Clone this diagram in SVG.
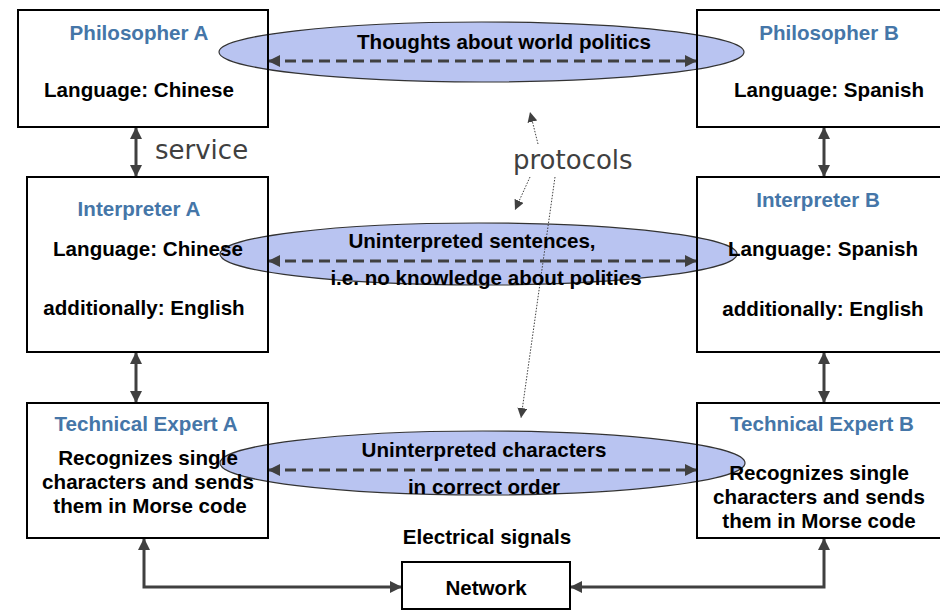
<svg xmlns="http://www.w3.org/2000/svg" width="940" height="611" viewBox="0 0 940 611">
<style>
.box{fill:none;stroke:#000;stroke-width:2}
.ell{fill:#b9c4f1;stroke:#333;stroke-width:1.2}
.t{font-family:"Liberation Sans",Arial,sans-serif;font-weight:bold;font-size:20.6px;fill:#000;text-anchor:middle}
.ti{fill:#4576a8}
.lbl{font-family:"DejaVu Sans",Verdana,sans-serif;font-size:26px;fill:#404040}
.solid{fill:none;stroke:#404040;stroke-width:3}
.dash{fill:none;stroke:#404040;stroke-width:3;stroke-dasharray:11 6}
.dot{fill:none;stroke:#404040;stroke-width:1;stroke-dasharray:1.5 1.5}
</style>
<defs>
<marker id="ah" markerUnits="userSpaceOnUse" viewBox="0 0 12 12" refX="12" refY="6" markerWidth="12" markerHeight="12" orient="auto-start-reverse">
<path d="M0,0 L12,6 L0,12 z" fill="#404040"/>
</marker>
<marker id="sh" markerUnits="userSpaceOnUse" viewBox="0 0 10 10" refX="10" refY="5" markerWidth="10" markerHeight="10" orient="auto">
<path d="M0,0 L10,5 L0,10 z" fill="#404040"/>
</marker>
</defs>
<rect x="0" y="0" width="940" height="611" fill="#fff"/>
<g id="channels">
<ellipse class="ell" cx="481.5" cy="52" rx="262.5" ry="30"/>
<ellipse class="ell" cx="478.5" cy="254" rx="258.5" ry="31"/>
<ellipse class="ell" cx="482.5" cy="463" rx="262.5" ry="32"/>
</g>
<g id="connectors">
<line class="dash" x1="268" y1="61" x2="697" y2="61" marker-start="url(#ah)" marker-end="url(#ah)"/>
<line class="dash" x1="268" y1="261" x2="697" y2="261" marker-start="url(#ah)" marker-end="url(#ah)"/>
<line class="dash" x1="268" y1="470" x2="697" y2="470" marker-start="url(#ah)" marker-end="url(#ah)"/>
<line class="solid" x1="136" y1="127" x2="136" y2="177" marker-start="url(#ah)" marker-end="url(#ah)"/>
<line class="solid" x1="136" y1="352" x2="136" y2="403" marker-start="url(#ah)" marker-end="url(#ah)"/>
<line class="solid" x1="824" y1="127" x2="824" y2="177" marker-start="url(#ah)" marker-end="url(#ah)"/>
<line class="solid" x1="824" y1="352" x2="824" y2="403" marker-start="url(#ah)" marker-end="url(#ah)"/>
<path class="solid" d="M144,538 L144,587 L402,587" marker-start="url(#ah)" marker-end="url(#ah)"/>
<path class="solid" d="M824,538 L824,587 L570,587" marker-start="url(#ah)" marker-end="url(#ah)"/>
<line class="dot" x1="538" y1="144" x2="530" y2="112" marker-end="url(#sh)"/>
<line class="dot" x1="530" y1="177" x2="515" y2="210" marker-end="url(#sh)"/>
<line class="dot" x1="555" y1="177" x2="521" y2="418" marker-end="url(#sh)"/>
</g>
<g id="philosopherA">
<rect class="box" x="18" y="10" width="250" height="117"/>
<text class="t ti" x="139" y="40">Philosopher A</text>
<text class="t" x="139" y="97">Language: Chinese</text>
</g>
<g id="interpreterA">
<rect class="box" x="27" y="177" width="241" height="175"/>
<text class="t ti" x="139" y="216">Interpreter A</text>
<text class="t" x="148" y="256">Language: Chinese</text>
<text class="t" x="144" y="315">additionally: English</text>
</g>
<g id="technicalA">
<rect class="box" x="27" y="403" width="241" height="135"/>
<text class="t ti" x="146" y="431">Technical Expert A</text>
<text class="t" x="148" y="465">Recognizes single</text>
<text class="t" x="148" y="489">characters and sends</text>
<text class="t" x="150" y="513">them in Morse code</text>
</g>
<g id="philosopherB">
<rect class="box" x="697" y="10" width="260" height="117"/>
<text class="t ti" x="829" y="40">Philosopher B</text>
<text class="t" x="829" y="97">Language: Spanish</text>
</g>
<g id="interpreterB">
<rect class="box" x="697" y="177" width="260" height="175"/>
<text class="t ti" x="818" y="207">Interpreter B</text>
<text class="t" x="823" y="256">Language: Spanish</text>
<text class="t" x="823" y="316">additionally: English</text>
</g>
<g id="technicalB">
<rect class="box" x="697" y="403" width="260" height="135"/>
<text class="t ti" x="822" y="431">Technical Expert B</text>
<text class="t" x="819" y="480">Recognizes single</text>
<text class="t" x="819" y="504">characters and sends</text>
<text class="t" x="819" y="528">them in Morse code</text>
</g>
<g id="network">
<rect class="box" x="402" y="562" width="168" height="47"/>
<text class="t" x="486" y="595">Network</text>
</g>
<g id="labels">
<text class="t" x="504" y="49">Thoughts about world politics</text>
<text class="t" x="472" y="248">Uninterpreted sentences,</text>
<text class="t" x="486" y="285">i.e. no knowledge about politics</text>
<text class="t" x="484" y="457">Uninterpreted characters</text>
<text class="t" x="484" y="494">in correct order</text>
<text class="t" x="487" y="544">Electrical signals</text>
<text class="lbl" x="155" y="159">service</text>
<text class="lbl" x="513" y="169">protocols</text>
</g>
</svg>
